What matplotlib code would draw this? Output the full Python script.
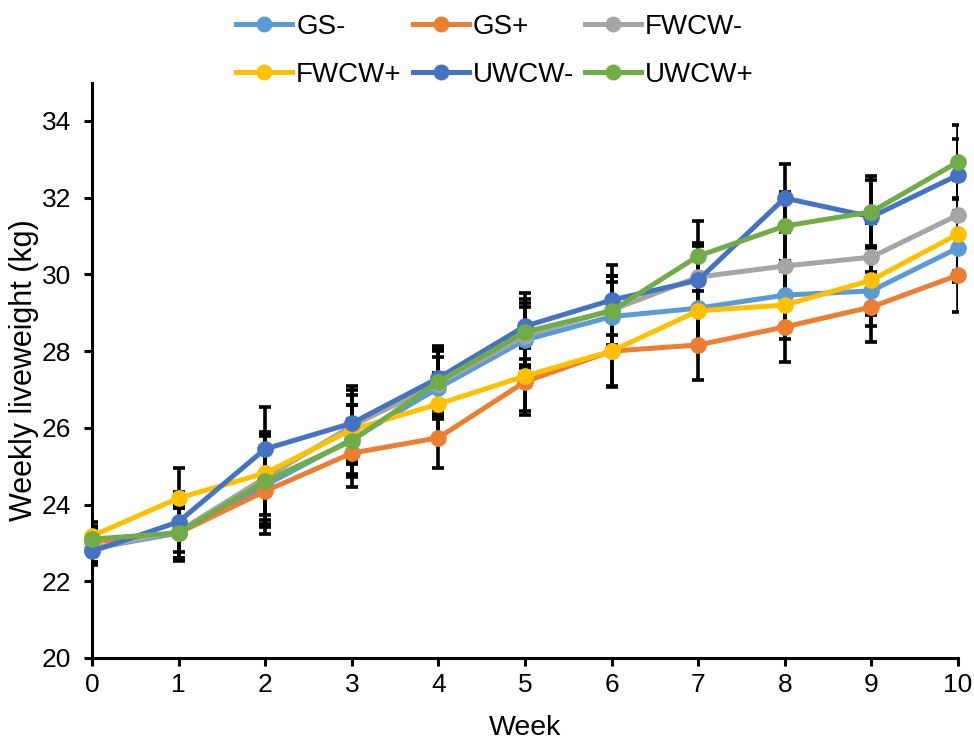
import matplotlib
matplotlib.use("Agg")
import matplotlib.pyplot as plt
import numpy as np

plt.rcParams['font.family'] = ['Liberation Sans', 'DejaVu Sans']

weeks = [0, 1, 2, 3, 4, 5, 6, 7, 8, 9, 10]

gs_minus = [22.85, 23.26, 24.50, 25.70, 27.04, 28.29, 28.90, 29.12, 29.46, 29.57, 30.69]
gs_plus = [23.02, 23.26, 24.35, 25.34, 25.74, 27.20, 28.00, 28.16, 28.63, 29.15, 29.98]
fwcw_minus = [22.85, 23.30, 24.70, 26.05, 27.15, 28.40, 29.07, 29.93, 30.22, 30.45, 31.55]
fwcw_plus = [23.18, 24.17, 24.82, 25.95, 26.62, 27.35, 28.00, 29.05, 29.20, 29.85, 31.05]
uwcw_minus = [22.78, 23.55, 25.45, 26.12, 27.30, 28.65, 29.33, 29.85, 31.99, 31.50, 32.59]
uwcw_plus = [23.10, 23.26, 24.61, 25.66, 27.20, 28.50, 29.05, 30.48, 31.26, 31.63, 32.93]

gs_minus_err = [0.35, 0.65, 1.00, 0.90, 0.80, 0.85, 0.90, 0.90, 0.90, 0.91, 0.90]
gs_plus_err = [0.35, 0.65, 1.12, 0.88, 0.79, 0.87, 0.93, 0.91, 0.91, 0.91, 0.96]
fwcw_minus_err = [0.35, 0.70, 1.10, 0.93, 0.85, 0.85, 0.90, 0.88, 0.90, 0.90, 0.92]
fwcw_plus_err = [0.37, 0.78, 1.08, 0.90, 0.80, 0.91, 0.90, 0.90, 0.88, 0.90, 0.95]
uwcw_minus_err = [0.35, 0.78, 1.09, 0.96, 0.83, 0.86, 0.91, 0.90, 0.89, 0.96, 0.95]
uwcw_plus_err = [0.35, 0.72, 1.20, 0.94, 0.85, 0.86, 0.92, 0.91, 0.90, 0.94, 0.97]

labels = ["GS-", "GS+", "FWCW-", "FWCW+", "UWCW-", "UWCW+"]
colors = ["#5B9BD5", "#ED7D31", "#A5A5A5", "#FFC000", "#4472C4", "#70AD47"]
means = [gs_minus, gs_plus, fwcw_minus, fwcw_plus, uwcw_minus, uwcw_plus]
errors = [gs_minus_err, gs_plus_err, fwcw_minus_err, fwcw_plus_err,
          uwcw_minus_err, uwcw_plus_err]

fig = plt.figure(figsize=(9.74, 7.42), dpi=100)
ax = fig.add_axes([92 / 974, 84 / 742, 866 / 974, (658 - 82.6) / 742])

# error bars sit underneath every series line
for m, e in zip(means, errors):
    ax.errorbar(weeks, m, yerr=e, fmt='none', ecolor='black', elinewidth=2.6,
                capsize=4.5, capthick=2.6, zorder=2)

for i, (m, lab, c) in enumerate(zip(means, labels, colors)):
    ax.plot(weeks, m, color=c, linewidth=3.6, marker='o', markersize=11,
            label=lab, zorder=3 + i, clip_on=False)

ax.set_xlim(0, 10)
ax.set_ylim(20, 35)
ax.set_xticks(range(0, 11))
ax.set_yticks(range(20, 35, 2))

for side in ("top", "right"):
    ax.spines[side].set_visible(False)
for side in ("left", "bottom"):
    ax.spines[side].set_linewidth(2.2)
    ax.spines[side].set_color("black")

ax.tick_params(axis='both', labelsize=19, width=2.2, length=6, direction='out',
               colors='black')
ax.tick_params(axis='y', pad=9)
ax.tick_params(axis='x', pad=5)

ax.set_xlabel("Week", fontsize=20.5, labelpad=13)
ax.set_ylabel("Weekly liveweight (kg)", fontsize=22, labelpad=2)

# legend reads across rows: reorder for matplotlib's column-major filling
handles, labs = ax.get_legend_handles_labels()
order = [0, 3, 1, 4, 2, 5]
fig.legend([handles[k] for k in order], [labs[k] for k in order],
           loc='center', bbox_to_anchor=(495 / 974, 1 - 51 / 742),
           ncol=3, frameon=False, fontsize=20, handlelength=2.0,
           handletextpad=0.15, columnspacing=0.4, labelspacing=0.8,
           markerscale=0.95, borderaxespad=0, borderpad=0)

fig.savefig("out.png", dpi=100)
